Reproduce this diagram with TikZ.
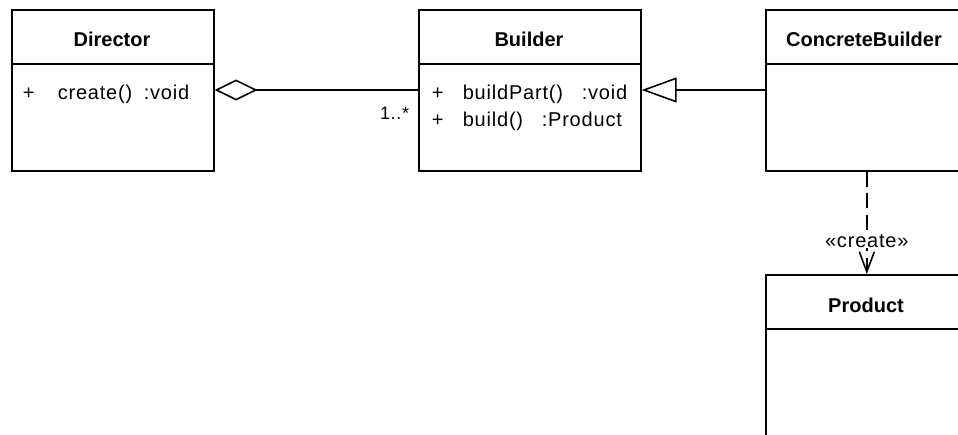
\documentclass[tikz,border=0pt]{standalone}
\usepackage{fontspec}
\setmainfont{Liberation Sans}
\newfontfamily\memberfont[LetterSpace=4]{Liberation Sans}
\usetikzlibrary{arrows.meta}

\begin{document}
\begin{tikzpicture}[x=1pt, y=-1pt, line width=1.6pt,
  classbox/.style={draw, fill=white, anchor=north west, inner sep=0pt},
  classname/.style={font=\bfseries\fontsize{20}{24}\selectfont, inner sep=0pt, anchor=base},
  member/.style={font=\memberfont\fontsize{20}{24}\selectfont, inner sep=0pt, anchor=base west},
  smalllabel/.style={font=\memberfont\fontsize{18}{22}\selectfont, inner sep=0pt},
  aggregation/.style={{Diamond[open, length=43pt, width=21pt]}-},
  generalization/.style={-{Triangle[open, length=35pt, width=25pt]}},
  dependency/.style={dash pattern=on 15pt off 6.5pt, -{Straight Barb[length=20pt, width=15pt]}}]

\useasboundingbox (0,0) rectangle (958,434);
\clip (0,0) rectangle (958,434);
\fill[white] (0,0) rectangle (958,434);

% Director
\node[classbox, minimum width=202pt, minimum height=161pt] (director) at (11,9) {};
\draw ([yshift=-55pt]director.north west) -- ([yshift=-55pt]director.north east);
\node[classname] (directorName) at (112,46.5) {Director};
\node[member] (directorVis) at (22,99) {+};
\node[member] (directorOp) at (57,99) {create()};
\node[member] (directorOpType) at (143,99) {:void};

% Builder
\node[classbox, minimum width=222pt, minimum height=161pt] (builder) at (418,9) {};
\draw ([yshift=-55pt]builder.north west) -- ([yshift=-55pt]builder.north east);
\node[classname] (builderName) at (529,46.5) {Builder};
\node[member] (builderVisA) at (431,99) {+};
\node[member] (builderOpA) at (462,99) {buildPart()};
\node[member] (builderOpAType) at (581,99) {:void};
\node[member] (builderVisB) at (431,126) {+};
\node[member] (builderOpB) at (462,126) {build()};
\node[member] (builderOpBType) at (541,126) {:Product};

% ConcreteBuilder
\node[classbox, minimum width=202pt, minimum height=161pt] (concrete) at (765,9) {};
\draw ([yshift=-55pt]concrete.north west) -- ([yshift=-55pt]concrete.north east);
\node[classname] (concreteName) at (864,46.5) {ConcreteBuilder};

% Product
\node[classbox, minimum width=202pt, minimum height=220pt] (product) at (765,274) {};
\draw ([yshift=-55pt]product.north west) -- ([yshift=-55pt]product.north east);
\node[classname] (productName) at (866,312) {Product};

% Connectors
\coordinate (directorLink) at ([yshift=-81pt]director.north east);
\draw[aggregation] (directorLink) -- (directorLink -| builder.west);
\node[smalllabel, anchor=base east] (multiplicity) at (410,119) {1..*};

\draw[generalization] (directorLink -| concrete.west) -- (directorLink -| builder.east);

\draw[dependency] (concrete.south) -- (product.north)
  node[pos=0.68, smalllabel, font=\memberfont\fontsize{20}{24}\selectfont, fill=white] (createLabel) {«create»};

\end{tikzpicture}
\end{document}
